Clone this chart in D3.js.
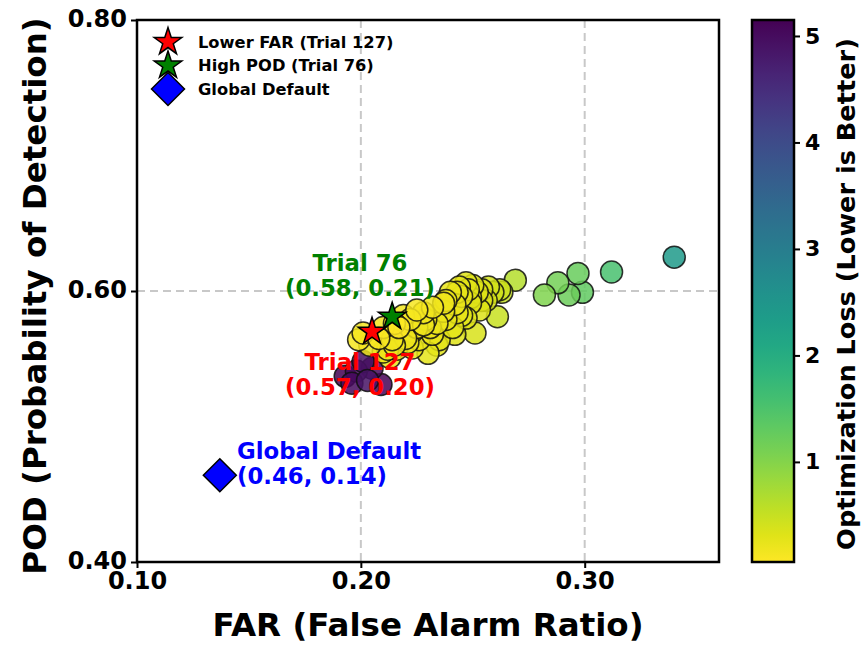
<!DOCTYPE html>
<html>
<head>
<meta charset="utf-8">
<script src="https://cdn.jsdelivr.net/npm/d3@7"></script>
<style>
  body { margin: 0; background: #fff; }
  svg { display: block; }
  text { font-family: "DejaVu Sans", sans-serif; font-weight: bold; }
</style>
</head>
<body>
<svg id="chart" width="861" height="646"></svg>
<script>
// ---------- data ----------
const farValues = [
  0.199,0.201,0.204,0.208,0.210,0.212,0.214,0.216,0.217,0.220,
  0.222,0.223,0.223,0.225,0.226,0.228,0.229,0.231,0.232,0.234,
  0.234,0.237,0.238,0.238,0.240,0.242,0.243,0.243,0.244,0.245,
  0.245,0.247,0.248,0.249,0.250,0.251,0.253,0.254,0.254,0.256,
  0.257,0.259,0.261,0.262,0.263,0.269,0.215,0.219,0.210,0.213,
  0.230,0.235,0.241,0.247,0.249,0.252,0.221,0.215,0.232,0.237,
  0.242,0.228,0.225,
  0.282,0.288,0.297,0.293,0.299,0.312,0.340,
  0.193,0.198,0.201,0.205,0.209,0.203,0.196
];
const podValues = [
  0.564,0.569,0.560,0.565,0.573,0.557,0.564,0.557,0.573,0.565,
  0.579,0.558,0.570,0.586,0.564,0.584,0.579,0.573,0.588,0.560,
  0.576,0.591,0.593,0.579,0.599,0.568,0.584,0.599,0.603,0.596,
  0.582,0.606,0.601,0.591,0.604,0.569,0.586,0.601,0.593,0.593,
  0.603,0.599,0.581,0.601,0.599,0.608,0.576,0.582,0.555,0.551,
  0.554,0.564,0.573,0.580,0.595,0.599,0.562,0.560,0.568,0.585,
  0.590,0.575,0.573,
  0.597,0.606,0.613,0.597,0.599,0.614,0.625,
  0.537,0.541,0.548,0.543,0.531,0.534,0.532
];
const lossValues = [
  0.15,0.12,0.18,0.10,0.14,0.20,0.16,0.22,0.06,0.18,
  0.15,0.25,0.20,0.13,0.22,0.17,0.19,0.21,0.16,0.28,
  0.20,0.18,0.20,0.24,0.22,0.30,0.25,0.24,0.26,0.25,
  0.28,0.30,0.28,0.30,0.32,0.36,0.33,0.35,0.34,0.38,
  0.40,0.42,0.48,0.45,0.50,0.62,0.14,0.16,0.22,0.24,
  0.26,0.27,0.26,0.30,0.31,0.33,0.20,0.18,0.22,0.21,
  0.23,0.18,0.19,
  1.05,1.15,1.25,1.20,1.30,1.55,2.40,
  5.15,5.00,4.95,5.05,5.10,4.90,5.00
];
const highlightNames = ["Trial 127", "Trial 76", "Global Default"];
const highlightFAR = [0.205, 0.214, 0.137];
const highlightPOD = [0.570, 0.581, 0.464];
const highlightColors = ["red", "green", "blue"];
const legendLabels = ["Lower FAR (Trial 127)", "High POD (Trial 76)", "Global Default"];
const xTicks = [0.10, 0.20, 0.30];
const yTicks = [0.40, 0.60, 0.80];
const cbTicks = [1, 2, 3, 4, 5];

// ---------- layout ----------
const svg = d3.select("#chart");
const L = 137, R = 719, T = 20, B = 562;
const x = d3.scaleLinear().domain([0.10, 0.36]).range([L, R]);
const y = d3.scaleLinear().domain([0.40, 0.80]).range([B, T]);
const lossMin = d3.min(lossValues), lossMax = d3.max(lossValues);
const color = d3.scaleSequential(t => d3.interpolateViridis(1 - t)).domain([lossMin, lossMax]);

// grid
const grid = svg.append("g");
xTicks.forEach(v => grid.append("line")
  .attr("x1", x(v)).attr("x2", x(v)).attr("y1", T).attr("y2", B)
  .attr("stroke", "#c8c8c8").attr("stroke-width", 2).attr("stroke-dasharray", "8,5"));
yTicks.forEach(v => grid.append("line")
  .attr("x1", L).attr("x2", R).attr("y1", y(v)).attr("y2", y(v))
  .attr("stroke", "#c8c8c8").attr("stroke-width", 2).attr("stroke-dasharray", "8,5"));

// points
const pts = farValues.map((f, i) => ({f, p: podValues[i], l: lossValues[i]}))
  .sort((a, b) => b.l - a.l);
svg.append("clipPath").attr("id", "plotclip")
  .append("rect").attr("x", L).attr("y", T).attr("width", R - L).attr("height", B - T);
svg.append("g").attr("clip-path", "url(#plotclip)")
  .selectAll("circle").data(pts).join("circle")
  .attr("cx", d => x(d.f)).attr("cy", d => y(d.p)).attr("r", 11)
  .attr("fill", d => color(d.l)).attr("fill-opacity", 0.85)
  .attr("stroke", "#111").attr("stroke-opacity", 0.85).attr("stroke-width", 1.5);

// markers
function starPath(R0) {
  const r0 = R0 * 0.381966;
  const p = [];
  for (let k = 0; k < 10; k++) {
    const a = -Math.PI / 2 + k * Math.PI / 5;
    const rr = k % 2 === 0 ? R0 : r0;
    p.push([rr * Math.cos(a), rr * Math.sin(a)]);
  }
  return "M" + p.map(q => q.join(",")).join("L") + "Z";
}
function diamondPath(h) {
  return `M0,${-h}L${h},0L0,${h}L${-h},0Z`;
}
const marks = svg.append("g");
highlightNames.forEach((n, i) => {
  marks.append("path")
    .attr("d", i < 2 ? starPath(14.5) : diamondPath(16.5))
    .attr("transform", `translate(${x(highlightFAR[i])},${y(highlightPOD[i])})`)
    .attr("fill", highlightColors[i]).attr("stroke", "#000").attr("stroke-width", 1.5);
});

// annotations
const ann = svg.append("g").attr("font-size", 22.8);
function twoLine(text1, text2, xx, yy, anchor, col) {
  const t = ann.append("text").attr("fill", col).attr("text-anchor", anchor);
  t.append("tspan").attr("x", xx).attr("y", yy).text(text1);
  t.append("tspan").attr("x", xx).attr("y", yy + 25).text(text2);
}
twoLine("Trial 76", `(${highlightPOD[1].toFixed(2)}, ${highlightFAR[1].toFixed(2)})`, 360, 271, "middle", "green");
twoLine("Trial 127", `(${highlightPOD[0].toFixed(2)}, ${highlightFAR[0].toFixed(2)})`, 360, 370, "middle", "red");
twoLine("Global Default", `(${highlightPOD[2].toFixed(2)}, ${highlightFAR[2].toFixed(2)})`, 237, 459, "start", "blue");

// legend
const leg = svg.append("g");
legendLabels.forEach((lab, i) => {
  const yy = 42 + i * 23.5;
  leg.append("path")
    .attr("d", i < 2 ? starPath(14.5) : diamondPath(16.5))
    .attr("transform", `translate(168,${yy})`)
    .attr("fill", highlightColors[i]).attr("stroke", "#000").attr("stroke-width", 1.5);
  leg.append("text").attr("x", 198).attr("y", yy).attr("dy", "0.35em")
    .attr("font-size", 16.3).attr("fill", "#000").text(lab);
});

// axes
const xAxis = svg.append("g").attr("transform", `translate(0,${B})`)
  .call(d3.axisBottom(x).tickValues(xTicks).tickFormat(d3.format(".2f")).tickSize(6).tickPadding(4));
const yAxis = svg.append("g").attr("transform", `translate(${L},0)`)
  .call(d3.axisLeft(y).tickValues(yTicks).tickFormat(d3.format(".2f")).tickSize(6).tickPadding(4));
[xAxis, yAxis].forEach(a => {
  a.select(".domain").remove();
  a.selectAll(".tick line").attr("stroke", "#000").attr("stroke-width", 2);
  a.selectAll(".tick text").attr("font-size", 24).attr("fill", "#000")
    .attr("font-family", "DejaVu Sans").attr("font-weight", "bold");
});
yAxis.selectAll(".tick text").attr("dy", "0.28em");
// frame
svg.append("rect").attr("x", L).attr("y", T).attr("width", R - L).attr("height", B - T)
  .attr("fill", "none").attr("stroke", "#000").attr("stroke-width", 2.5);

svg.append("text").attr("x", (L + R) / 2).attr("y", 636).attr("text-anchor", "middle")
  .attr("font-size", 32.5).attr("fill", "#000").text("FAR (False Alarm Ratio)");
svg.append("text").attr("transform", `translate(46,${(T + B) / 2 + 5}) rotate(-90)`)
  .attr("text-anchor", "middle").attr("font-size", 32.5).attr("fill", "#000")
  .text("POD (Probability of Detection)");

// colorbar
const cbX = 752, cbW = 42;
const cy = d3.scaleLinear().domain([lossMin, lossMax]).range([B, T]);
const defs = svg.append("defs");
const grad = defs.append("linearGradient").attr("id", "cbgrad")
  .attr("x1", 0).attr("y1", 1).attr("x2", 0).attr("y2", 0);
d3.range(0, 1.0001, 0.05).forEach(t => grad.append("stop")
  .attr("offset", t).attr("stop-color", color(lossMin + t * (lossMax - lossMin))));
svg.append("rect").attr("x", cbX).attr("y", T).attr("width", cbW).attr("height", B - T)
  .attr("fill", "url(#cbgrad)").attr("stroke", "#000").attr("stroke-width", 2.5);
const cbAxis = svg.append("g").attr("transform", `translate(${cbX + cbW},0)`)
  .call(d3.axisRight(cy).tickValues(cbTicks).tickFormat(d3.format("d")).tickSize(6).tickPadding(5));
cbAxis.select(".domain").remove();
cbAxis.selectAll(".tick line").attr("stroke", "#000").attr("stroke-width", 2);
cbAxis.selectAll(".tick text").attr("font-size", 22).attr("fill", "#000")
  .attr("font-family", "DejaVu Sans").attr("font-weight", "bold");
svg.append("text").attr("transform", `translate(855,${(T + B) / 2 + 3}) rotate(-90)`)
  .attr("text-anchor", "middle").attr("font-size", 25.6).attr("fill", "#000")
  .text("Optimization Loss (Lower is Better)");
</script>
</body>
</html>
